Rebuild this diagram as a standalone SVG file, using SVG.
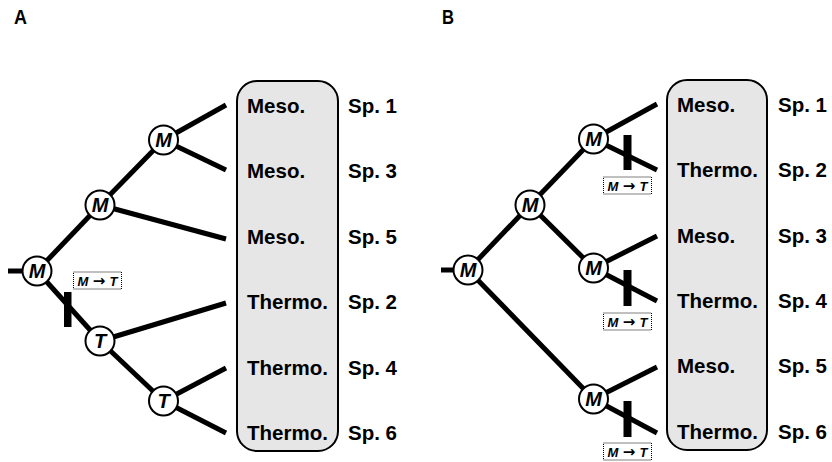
<svg xmlns="http://www.w3.org/2000/svg" width="832" height="462" viewBox="0 0 832 462">
<defs>
<style>
.br{stroke:#000;stroke-width:5;fill:none;stroke-linecap:butt}
.nd circle{fill:#fff;stroke:#000;stroke-width:2}
.nd text{font-family:"Liberation Sans",Arial,sans-serif;font-weight:bold;font-style:italic;font-size:20px;text-anchor:middle}
.lab{font-family:"Liberation Sans",Arial,sans-serif;font-weight:bold;font-size:20.5px}
.box{fill:#e6e6e6;stroke:#000;stroke-width:2}
.bar{fill:#000}
.ev rect{fill:#fff;stroke:#000;stroke-width:1;stroke-dasharray:1 1}
.ev text{font-family:"Liberation Sans","DejaVu Sans",sans-serif;font-weight:bold;font-style:italic;font-size:13px;text-anchor:middle}
.ev tspan{font-family:"DejaVu Sans",sans-serif;font-style:normal;font-weight:bold;font-size:15px}
.pl{font-family:"Liberation Sans",Arial,sans-serif;font-weight:bold;font-size:21px}
</style>
</defs>
<rect width="832" height="462" fill="#fff"/>
<text class="pl" x="14" y="24" textLength="13" lengthAdjust="spacingAndGlyphs">A</text>
<text class="pl" x="442" y="24" textLength="12" lengthAdjust="spacingAndGlyphs">B</text>

<!-- Panel A -->
<g id="boxA"><rect class="box" x="237" y="81" width="101" height="370" rx="20"/></g>
<g id="connectorsA">
<line class="br" x1="8" y1="271" x2="24" y2="271"/>
<line class="br" x1="37" y1="271" x2="100" y2="205"/>
<line class="br" x1="37" y1="271" x2="100" y2="341"/>
<line class="br" x1="100" y1="205" x2="163.5" y2="140"/>
<line class="br" x1="100" y1="205" x2="226" y2="239"/>
<line class="br" x1="163.5" y1="140" x2="226" y2="105"/>
<line class="br" x1="163.5" y1="140" x2="226" y2="170"/>
<line class="br" x1="100" y1="341" x2="163.5" y2="401"/>
<line class="br" x1="100" y1="341" x2="226" y2="303"/>
<line class="br" x1="163.5" y1="401" x2="226" y2="368"/>
<line class="br" x1="163.5" y1="401" x2="226" y2="433"/>
<rect class="bar" x="64" y="292" width="7.5" height="35"/>
</g>
<g id="evA" class="ev"><rect x="73.5" y="272" width="48" height="17"/><text x="97.5" y="285.5" textLength="40" lengthAdjust="spacing">M<tspan>→</tspan>T</text></g>
<g id="nA0" class="nd"><circle cx="37" cy="271" r="14.5"/><text x="37" y="278">M</text></g>
<g id="nA1" class="nd"><circle cx="100" cy="205" r="14.5"/><text x="100" y="212">M</text></g>
<g id="nA2" class="nd"><circle cx="163.5" cy="140" r="14.5"/><text x="163.5" y="147">M</text></g>
<g id="nA3" class="nd"><circle cx="100" cy="341" r="14.5"/><text x="100" y="348">T</text></g>
<g id="nA4" class="nd"><circle cx="163.5" cy="401" r="14.5"/><text x="163.5" y="408">T</text></g>
<g id="labelsA" class="lab">
<text x="247" y="113">Meso.</text><text x="348" y="113">Sp. 1</text>
<text x="247" y="178">Meso.</text><text x="348" y="178">Sp. 3</text>
<text x="247" y="244">Meso.</text><text x="348" y="244">Sp. 5</text>
<text x="247" y="309">Thermo.</text><text x="348" y="309">Sp. 2</text>
<text x="247" y="375">Thermo.</text><text x="348" y="375">Sp. 4</text>
<text x="247" y="440">Thermo.</text><text x="348" y="440">Sp. 6</text>
</g>

<!-- Panel B -->
<g id="boxB"><rect class="box" x="667" y="80" width="100" height="370" rx="20"/></g>
<g id="connectorsB">
<line class="br" x1="441" y1="270" x2="455" y2="270"/>
<line class="br" x1="468" y1="270" x2="530" y2="205"/>
<line class="br" x1="468" y1="270" x2="593.5" y2="399"/>
<line class="br" x1="530" y1="205" x2="593.5" y2="139"/>
<line class="br" x1="530" y1="205" x2="593.5" y2="268"/>
<line class="br" x1="593.5" y1="139" x2="657" y2="104"/>
<line class="br" x1="593.5" y1="139" x2="657" y2="170"/>
<line class="br" x1="593.5" y1="268" x2="657" y2="236"/>
<line class="br" x1="593.5" y1="268" x2="657" y2="301"/>
<line class="br" x1="593.5" y1="399" x2="657" y2="367"/>
<line class="br" x1="593.5" y1="399" x2="657" y2="433"/>
<rect class="bar" x="623.5" y="135" width="8" height="35"/>
<rect class="bar" x="623.5" y="270" width="8" height="36"/>
<rect class="bar" x="623.5" y="401" width="8" height="36"/>
</g>
<g id="evB1" class="ev"><rect x="603.5" y="177" width="48" height="17"/><text x="627.5" y="190.5" textLength="40" lengthAdjust="spacing">M<tspan>→</tspan>T</text></g>
<g id="evB2" class="ev"><rect x="603.5" y="313" width="48" height="17"/><text x="627.5" y="326.5" textLength="40" lengthAdjust="spacing">M<tspan>→</tspan>T</text></g>
<g id="evB3" class="ev"><rect x="603.5" y="443" width="48" height="17"/><text x="627.5" y="456.5" textLength="40" lengthAdjust="spacing">M<tspan>→</tspan>T</text></g>
<g id="nB0" class="nd"><circle cx="468" cy="270" r="14.5"/><text x="468" y="277">M</text></g>
<g id="nB1" class="nd"><circle cx="530" cy="205" r="14.5"/><text x="530" y="212">M</text></g>
<g id="nB2" class="nd"><circle cx="593.5" cy="139" r="14.5"/><text x="593.5" y="146">M</text></g>
<g id="nB3" class="nd"><circle cx="593.5" cy="268" r="14.5"/><text x="593.5" y="275">M</text></g>
<g id="nB4" class="nd"><circle cx="593.5" cy="399" r="14.5"/><text x="593.5" y="406">M</text></g>
<g id="labelsB" class="lab">
<text x="677" y="112">Meso.</text><text x="778" y="112">Sp. 1</text>
<text x="677" y="177">Thermo.</text><text x="778" y="177">Sp. 2</text>
<text x="677" y="243">Meso.</text><text x="778" y="243">Sp. 3</text>
<text x="677" y="308">Thermo.</text><text x="778" y="308">Sp. 4</text>
<text x="677" y="373">Meso.</text><text x="778" y="373">Sp. 5</text>
<text x="677" y="439">Thermo.</text><text x="778" y="439">Sp. 6</text>
</g>
</svg>
